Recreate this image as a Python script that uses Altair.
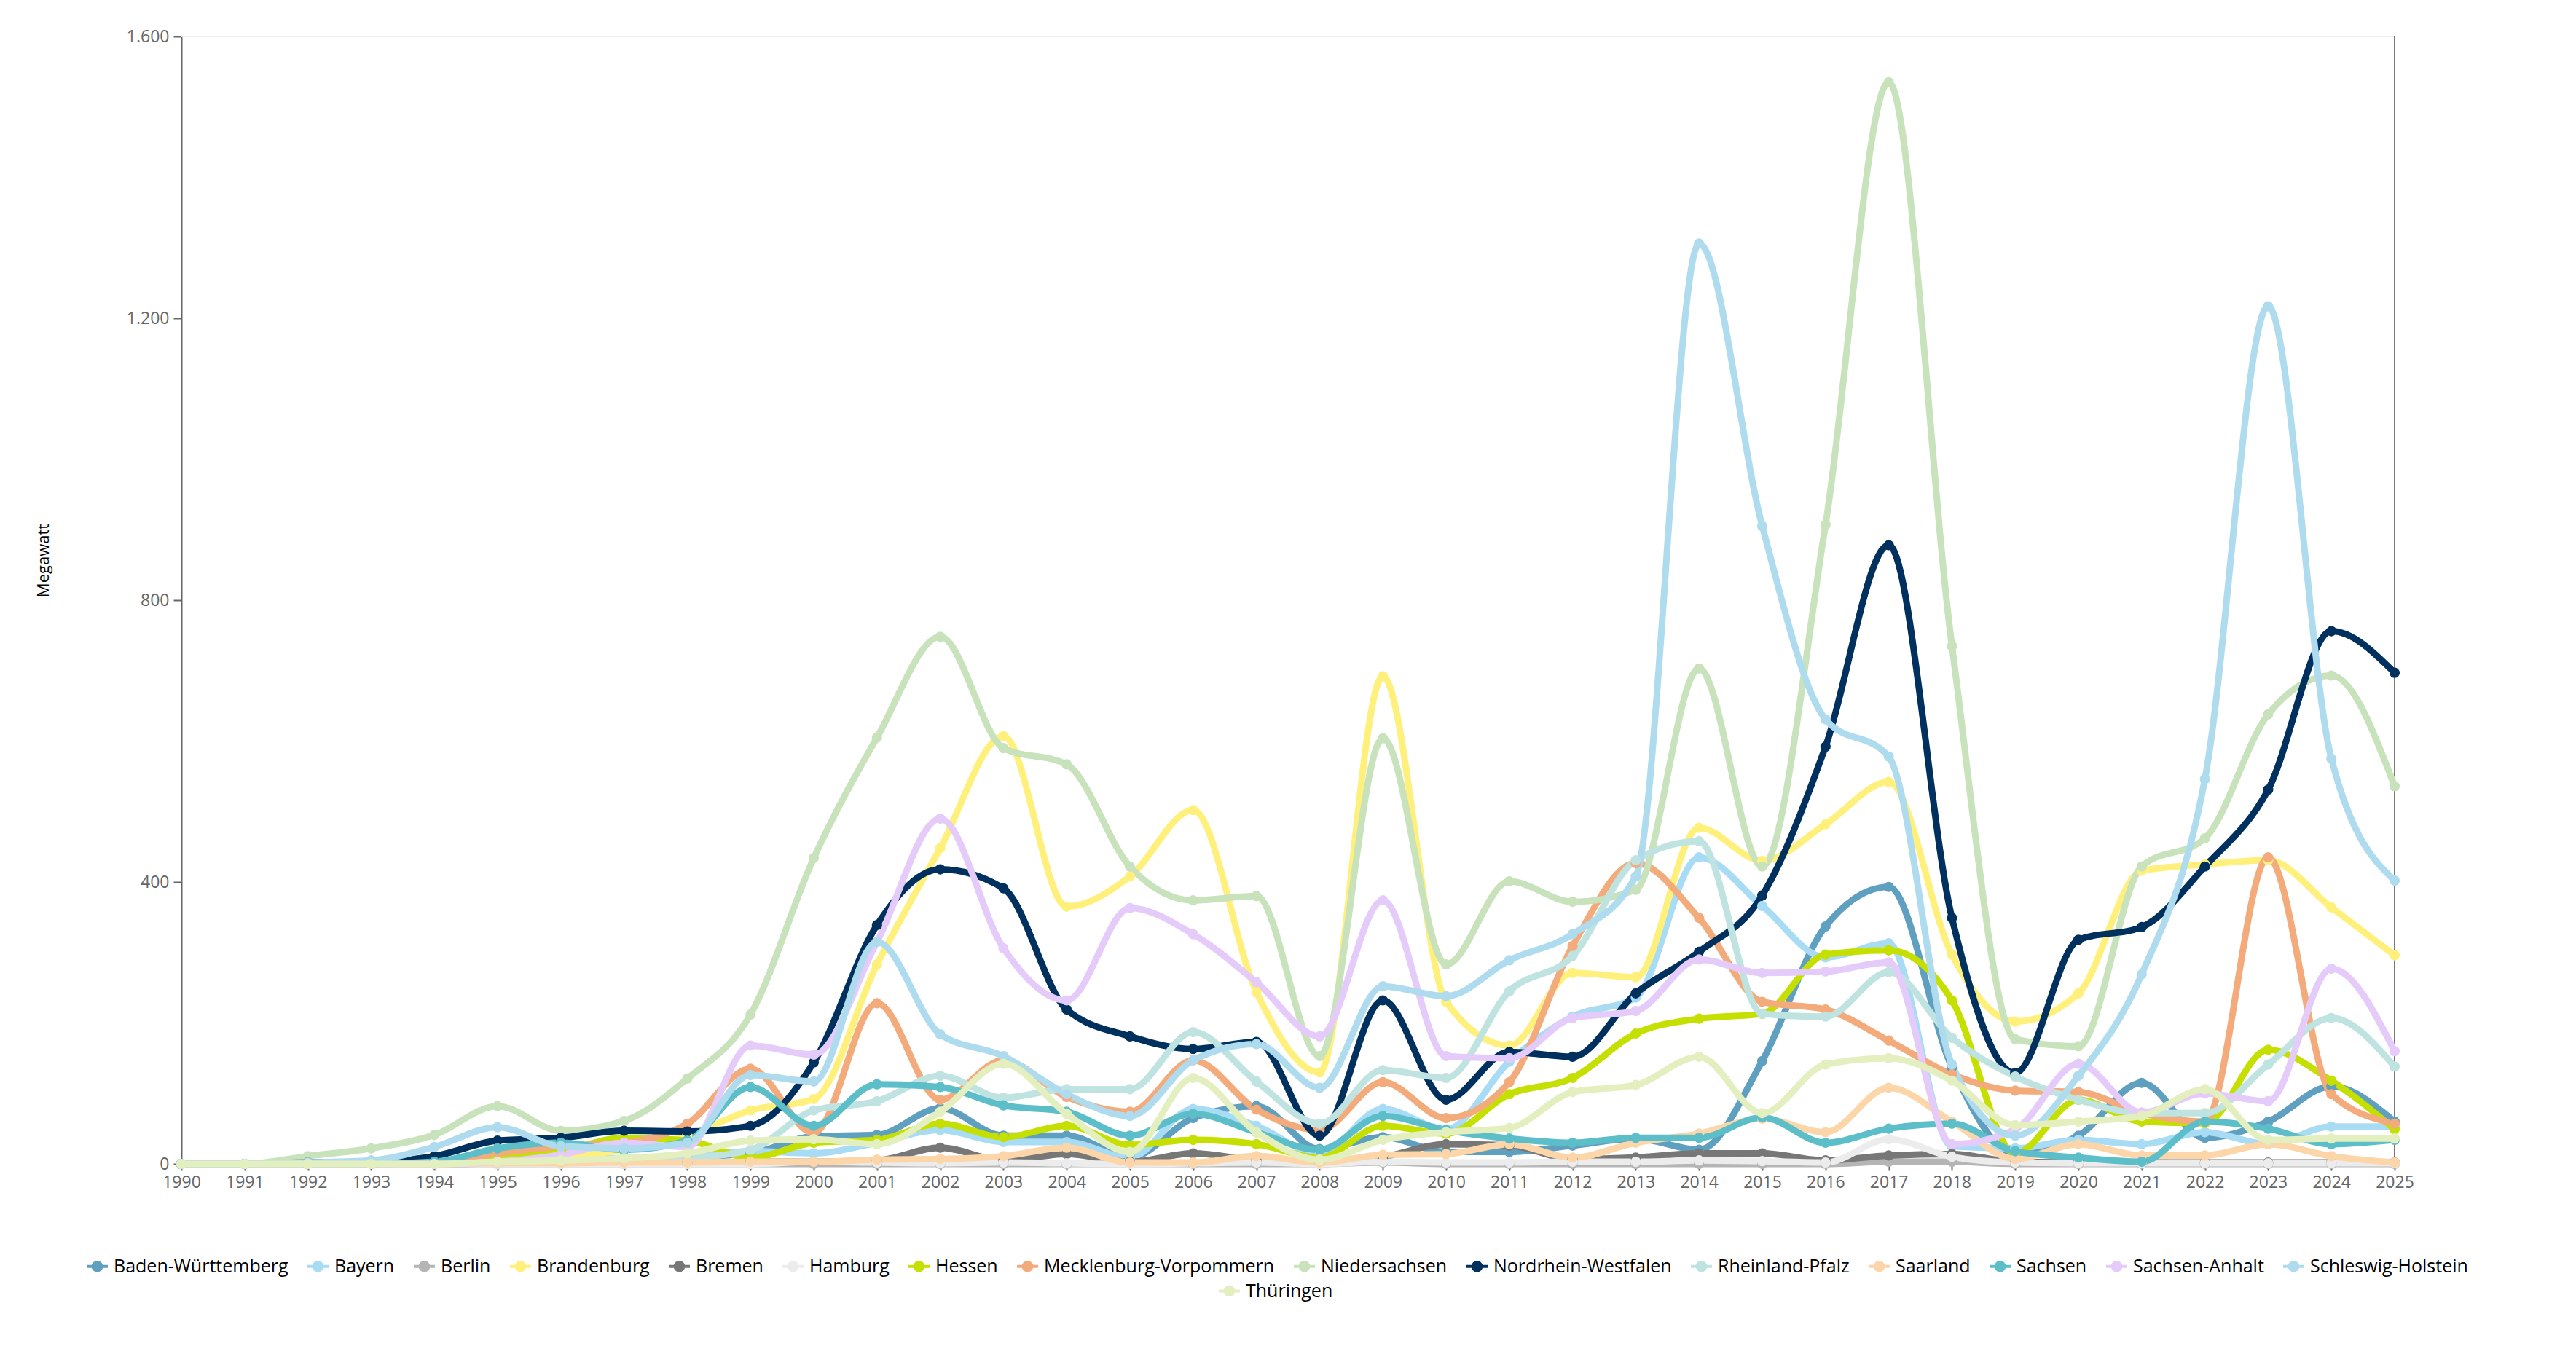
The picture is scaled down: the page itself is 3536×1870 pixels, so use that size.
import altair as alt
import pandas as pd

years = list(range(1990, 2026))

states = [
    "Baden-Württemberg", "Bayern", "Berlin", "Brandenburg", "Bremen", "Hamburg",
    "Hessen", "Mecklenburg-Vorpommern", "Niedersachsen", "Nordrhein-Westfalen",
    "Rheinland-Pfalz", "Saarland", "Sachsen", "Sachsen-Anhalt",
    "Schleswig-Holstein", "Thüringen",
]

colors = [
    "#5f9fbf", "#a8dcf5", "#b5b5b5", "#fff07c", "#777777", "#ececec",
    "#c5df00", "#f4ab7b", "#c8e2bc", "#00305e",
    "#bee3e1", "#fcd6a8", "#5bbec9", "#e5cbf9",
    "#aedcee", "#e4efc0",
]

# Zubau in Megawatt, 1990 ... 2025
baden_wuerttemberg = [0, 0, 0, 0, 1, 2, 5, 8, 10, 15,
                      39, 41, 79, 40, 40, 9, 65, 82, 21, 38,
                      17, 17, 26, 36, 20, 146, 337, 393, 137, 15,
                      40, 115, 37, 60, 110, 60]
bayern = [0, 0, 0, 0, 3, 8, 10, 8, 10, 18,
          15, 30, 48, 31, 31, 9, 78, 54, 14, 78,
          49, 145, 209, 236, 435, 366, 293, 313, 25, 22,
          34, 28, 45, 28, 53, 53]
berlin = [0, 0, 0, 0, 0, 0, 0, 0, 0, 0,
          0, 0, 0, 0, 0, 0, 0, 0, 0, 2,
          0, 0, 0, 0, 0, 0, 0, 3, 3, 0,
          0, 0, 0, 0, 0, 0]
brandenburg = [0, 0, 0, 1, 2, 5, 10, 20, 40, 76,
               92, 283, 448, 607, 365, 408, 502, 244, 130, 692,
               230, 168, 271, 265, 477, 430, 482, 542, 297, 202,
               242, 416, 425, 431, 364, 296]
bremen = [0, 0, 0, 0, 0, 1, 2, 2, 2, 3,
          3, 5, 23, 5, 14, 3, 15, 5, 2, 10,
          28, 26, 7, 9, 15, 15, 5, 12, 14, 3,
          2, 2, 2, 2, 2, 2]
hamburg = [0, 0, 0, 0, 0, 0, 0, 0, 0, 0,
           3, 2, 1, 2, 1, 0, 1, 2, 0, 3,
           2, 2, 3, 3, 5, 4, 2, 35, 10, 2,
           1, 1, 1, 1, 1, 1]
hessen = [0, 0, 0, 0, 2, 10, 18, 37, 33, 9,
          30, 34, 57, 38, 54, 27, 34, 28, 9, 54,
          43, 99, 122, 185, 206, 213, 297, 303, 232, 15,
          91, 60, 58, 162, 118, 49]
mecklenburg_vorpommern = [0, 0, 0, 3, 2, 15, 25, 30, 57, 135,
                          44, 228, 91, 147, 95, 74, 147, 77, 48, 116,
                          65, 116, 309, 427, 349, 230, 219, 175, 127, 104,
                          102, 72, 60, 435, 99, 57]
niedersachsen = [0, 0, 11, 22, 41, 82, 47, 61, 121, 212,
                 434, 605, 748, 590, 567, 422, 374, 380, 153, 604,
                 283, 401, 372, 389, 703, 422, 907, 1535, 735, 177,
                 167, 422, 462, 638, 693, 536]
nordrhein_westfalen = [0, 0, 2, 3, 11, 33, 37, 47, 46, 54,
                       144, 339, 418, 391, 219, 181, 163, 173, 40, 232,
                       91, 159, 152, 242, 301, 381, 592, 878, 349, 129,
                       318, 336, 422, 531, 756, 697]
rheinland_pfalz = [0, 0, 0, 0, 1, 2, 3, 4, 8, 20,
                   76, 89, 125, 94, 106, 106, 187, 117, 57, 133,
                   122, 245, 295, 431, 458, 213, 209, 272, 179, 124,
                   91, 72, 72, 141, 207, 138]
saarland = [0, 0, 0, 0, 0, 1, 1, 2, 2, 3,
            3, 6, 7, 11, 23, 2, 2, 11, 2, 13,
            14, 28, 9, 30, 43, 64, 45, 108, 60, 7,
            28, 12, 12, 28, 11, 2]
sachsen = [0, 0, 0, 0, 3, 22, 30, 20, 33, 109,
           54, 113, 109, 83, 74, 40, 71, 45, 20, 68,
           48, 36, 30, 37, 37, 66, 30, 50, 57, 18,
           9, 3, 60, 50, 28, 34]
sachsen_anhalt = [0, 0, 0, 0, 0, 3, 13, 30, 24, 168,
                  155, 315, 490, 306, 232, 363, 326, 258, 181, 374,
                  153, 150, 207, 217, 290, 271, 273, 286, 28, 49,
                  142, 73, 100, 89, 277, 160]
schleswig_holstein = [0, 0, 2, 5, 24, 52, 25, 22, 30, 126,
                      117, 315, 184, 153, 99, 68, 147, 170, 108, 252,
                      238, 289, 326, 408, 1306, 905, 631, 578, 141, 40,
                      125, 269, 546, 1217, 575, 402]
thueringen = [0, 0, 0, 0, 0, 3, 5, 8, 15, 33,
              35, 28, 74, 142, 71, 17, 122, 45, 6, 34,
              45, 51, 102, 112, 152, 72, 141, 150, 118, 55,
              60, 68, 106, 34, 36, 36]

series = [
    baden_wuerttemberg, bayern, berlin, brandenburg, bremen, hamburg,
    hessen, mecklenburg_vorpommern, niedersachsen, nordrhein_westfalen,
    rheinland_pfalz, saarland, sachsen, sachsen_anhalt,
    schleswig_holstein, thueringen,
]

rows = []
for state, values in zip(states, series):
    for year, mw in zip(years, values):
        rows.append({"Jahr": year, "Bundesland": state, "Megawatt": mw})
df = pd.DataFrame(rows)

FONT = "Open Sans"
# line with a hollow marker in the middle, like the original legend
LEGEND_SYMBOL = ("M-1,0L-0.4,0M0.4,0L1,0"
                 "M0.4,0A0.4,0.4,0,1,1,-0.4,0A0.4,0.4,0,1,1,0.4,0")

x_enc = alt.X("Jahr:Q",
              scale=alt.Scale(domain=[1990, 2025], nice=False, zero=False),
              axis=alt.Axis(values=years, format="d", title=None,
                            tickSize=9, labelPadding=5, labelFlush=False))
y_enc = alt.Y("Megawatt:Q",
              scale=alt.Scale(domain=[0, 1600], nice=False),
              axis=alt.Axis(values=[0, 400, 800, 1200, 1600],
                            labelExpr="replace(format(datum.value, ','), ',', '.')",
                            title="Megawatt", titleX=-178, titleY=719,
                            titleFontWeight="normal", titleColor="#000000",
                            titleFontSize=22, tickSize=11, labelPadding=6))


def legend(values, lx, ly):
    return alt.Legend(
        title=None, orient="none", legendX=lx, legendY=ly,
        direction="horizontal", columns=len(values), values=values,
        symbolType=LEGEND_SYMBOL, symbolSize=840, symbolStrokeWidth=4,
        symbolFillColor="white", symbolOpacity=1,
        labelFont=FONT, labelFontSize=25, labelColor="#000000",
        labelLimit=0, labelOffset=6, columnPadding=18,
    )


main_df = df[df["Bundesland"] != "Thüringen"]
thu_df = df[df["Bundesland"] == "Thüringen"]

lines = alt.Chart(main_df).mark_line(
    interpolate="monotone", strokeWidth=9,
    point=alt.OverlayMarkDef(filled=True, size=200, opacity=1),
).encode(
    x=x_enc, y=y_enc,
    color=alt.Color("Bundesland:N",
                    scale=alt.Scale(domain=states[:-1], range=colors[:-1]),
                    sort=states[:-1],
                    legend=legend(states[:-1], -132, 1672)),
)

thu_lines = alt.Chart(thu_df).mark_line(
    interpolate="monotone", strokeWidth=9,
    point=alt.OverlayMarkDef(filled=True, size=200, opacity=1),
).encode(
    x=x_enc, y=y_enc,
    color=alt.Color("Bundesland:N",
                    scale=alt.Scale(domain=states[-1:], range=colors[-1:]),
                    legend=legend(states[-1:], 1422, 1706)),
)

top_line = alt.Chart(df).mark_rule(color="#efefef", strokeWidth=2).encode(
    y=alt.datum(1600))
end_line = alt.Chart(df).mark_rule(color="#7a7a7a", strokeWidth=2).encode(
    x=alt.datum(2025))

chart = alt.layer(top_line, end_line, lines, thu_lines).resolve_scale(
    color="independent"
).properties(
    width=3038, height=1548,
    autosize="none",
    padding={"left": 241, "top": 42, "right": 241, "bottom": 264},
).configure_view(
    stroke=None
).configure_axis(
    grid=False,
    labelFont=FONT, labelFontSize=23, labelColor="#666666",
    titleFont=FONT,
    domainColor="#666666", tickColor="#666666", domainWidth=2, tickWidth=2,
)

chart.save("out.html", embed_options={"renderer": "svg", "actions": False})
